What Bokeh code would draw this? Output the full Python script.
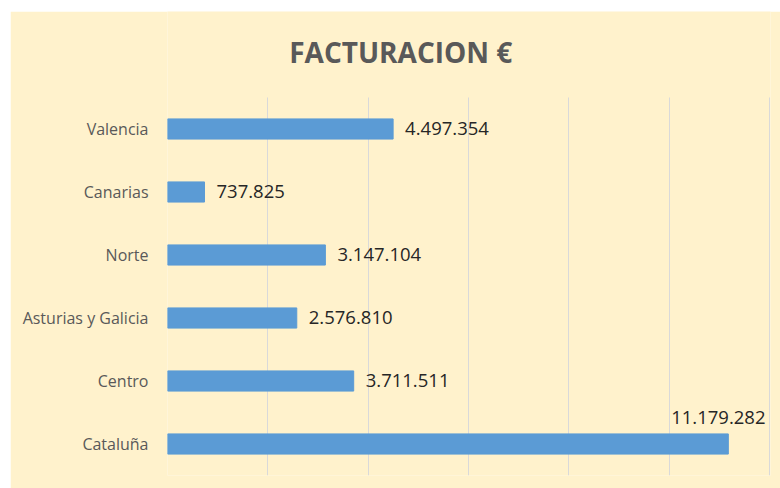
from bokeh.plotting import figure
from bokeh.models import ColumnDataSource, Range1d, SingleIntervalTicker, FixedTicker
from bokeh.embed import file_html
from bokeh.resources import INLINE
from bokeh.core.properties import value

categories = ["Valencia", "Canarias", "Norte", "Asturias y Galicia", "Centro", "Cataluña"]
facturacion = [4497354, 737825, 3147104, 2576810, 3711511, 11179282]
labels = ["4.497.354", "737.825", "3.147.104", "2.576.810", "3.711.511", "11.179.282"]
title_text = "FACTURACION €"

BG = "#FFF2CC"
BAR = "#5B9BD5"

# category slots, top to bottom
n = len(categories)
ypos = [n - 1 - i for i in range(n)]

# label placement: outside end, except the longest (placed above its end)
x_off = [12, 12, 12, 12, 12, -10]
y_off = [0, 0, 0, 0, 0, -26]
align = ["left", "left", "left", "left", "left", "center"]

src = ColumnDataSource(dict(y=ypos, val=facturacion, lab=labels,
                            xo=x_off, yo=y_off, al=align))

p = figure(width=770, height=477, output_backend="svg", toolbar_location=None,
           y_range=Range1d(-0.5, 6.865), x_range=Range1d(0, 12020000),
           x_axis_location=None,
           min_border_left=157, min_border_right=10, min_border_bottom=13, min_border_top=0)
p.styles = {"margin-left": "10px", "margin-top": "11px"}

p.background_fill_color = BG
p.border_fill_color = BG
p.outline_line_color = None

p.text(x=[4650000], y=[6.23], text=[title_text], text_align="center", text_baseline="middle",
       text_font=value("Open Sans"), text_font_size="28px", text_font_style="bold",
       text_color="#595959")

grid = p.xgrid[0]
grid.ticker = SingleIntervalTicker(interval=2000000)
grid.grid_line_color = "#D9D9D9"
if "cross_bounds" in grid.properties():
    grid.cross_bounds = (-0.5, n - 0.5)
else:
    grid.grid_line_color = None
    gx = list(range(0, 12000001, 2000000))
    p.segment(x0=gx, x1=gx, y0=[-0.5] * len(gx), y1=[n - 0.5] * len(gx),
              line_color="#D9D9D9", line_width=1)
p.ygrid.grid_line_color = None

p.hbar(y="y", right="val", left=0, height=0.32, source=src,
       fill_color=BAR, line_color=BAR)

p.text(x="val", y="y", text="lab", x_offset="xo", y_offset="yo", text_align="al",
       text_baseline="middle", text_font=value("Open Sans"), text_font_size="18.5px",
       text_color="#262626", source=src)

ax = p.yaxis[0]
ax.ticker = FixedTicker(ticks=ypos)
ax.major_label_overrides = {yy: c for yy, c in zip(ypos, categories)}
ax.axis_line_color = None
ax.major_tick_line_color = None
ax.minor_tick_line_color = None
ax.major_tick_out = 0
ax.major_label_standoff = 19
ax.major_label_text_font = "Open Sans"
ax.major_label_text_font_size = "16px"
ax.major_label_text_color = "#595959"

open("out.html", "w").write(file_html(p, INLINE))
